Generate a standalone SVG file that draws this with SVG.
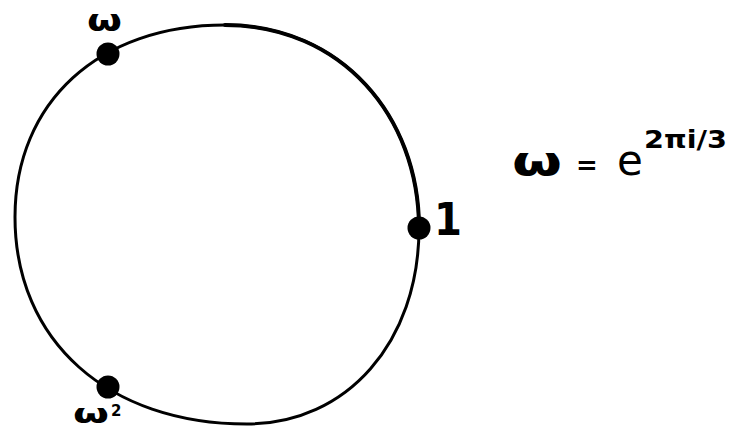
<svg xmlns="http://www.w3.org/2000/svg" width="732" height="431" viewBox="0 0 732 431">
<style>
.curve{fill:none;stroke:#000;stroke-width:3;stroke-linecap:round;stroke-linejoin:round}
.dot{fill:#000}
.lbl{font-family:"DejaVu Sans","Liberation Sans",sans-serif;font-weight:bold;fill:#000}
</style>
<rect width="732" height="431" fill="#fff"/>
<g id="connectors">
<path class="curve" d="M15,217 C15,102 99,25 225,25 C341,25 419,116 419,228 C419,342 347,424 247,424 C108,424 15,341 15,217 Z"/>
<path class="curve" style="stroke-width:4" d="M225,25 C341,25 419,116 419,228"/>
</g>
<g id="node-omega">
<circle class="dot" cx="108" cy="54" r="11.5"/>
<text class="lbl" x="87" y="31" font-size="30" textLength="35" lengthAdjust="spacingAndGlyphs">ω</text>
</g>
<g id="node-one">
<circle class="dot" cx="419" cy="228" r="11.5"/>
<text class="lbl" x="434" y="235" font-size="44" textLength="28" lengthAdjust="spacingAndGlyphs">1</text>
</g>
<g id="node-omega2">
<circle class="dot" cx="108" cy="387" r="11.5"/>
<text class="lbl" x="73" y="423" font-size="26" textLength="36" lengthAdjust="spacingAndGlyphs">ω</text>
<text class="lbl" x="111" y="416" font-size="15">2</text>
</g>
<g id="formula">
<text class="lbl" x="512" y="175" font-size="40" textLength="50" lengthAdjust="spacingAndGlyphs">ω</text>
<text class="lbl" x="576" y="174" font-size="26">=</text>
<text class="lbl" x="617" y="175" font-size="42" style="font-weight:normal">e</text>
<text class="lbl" x="644" y="148" font-size="25" textLength="83" lengthAdjust="spacingAndGlyphs">2πi/3</text>
</g>
</svg>
